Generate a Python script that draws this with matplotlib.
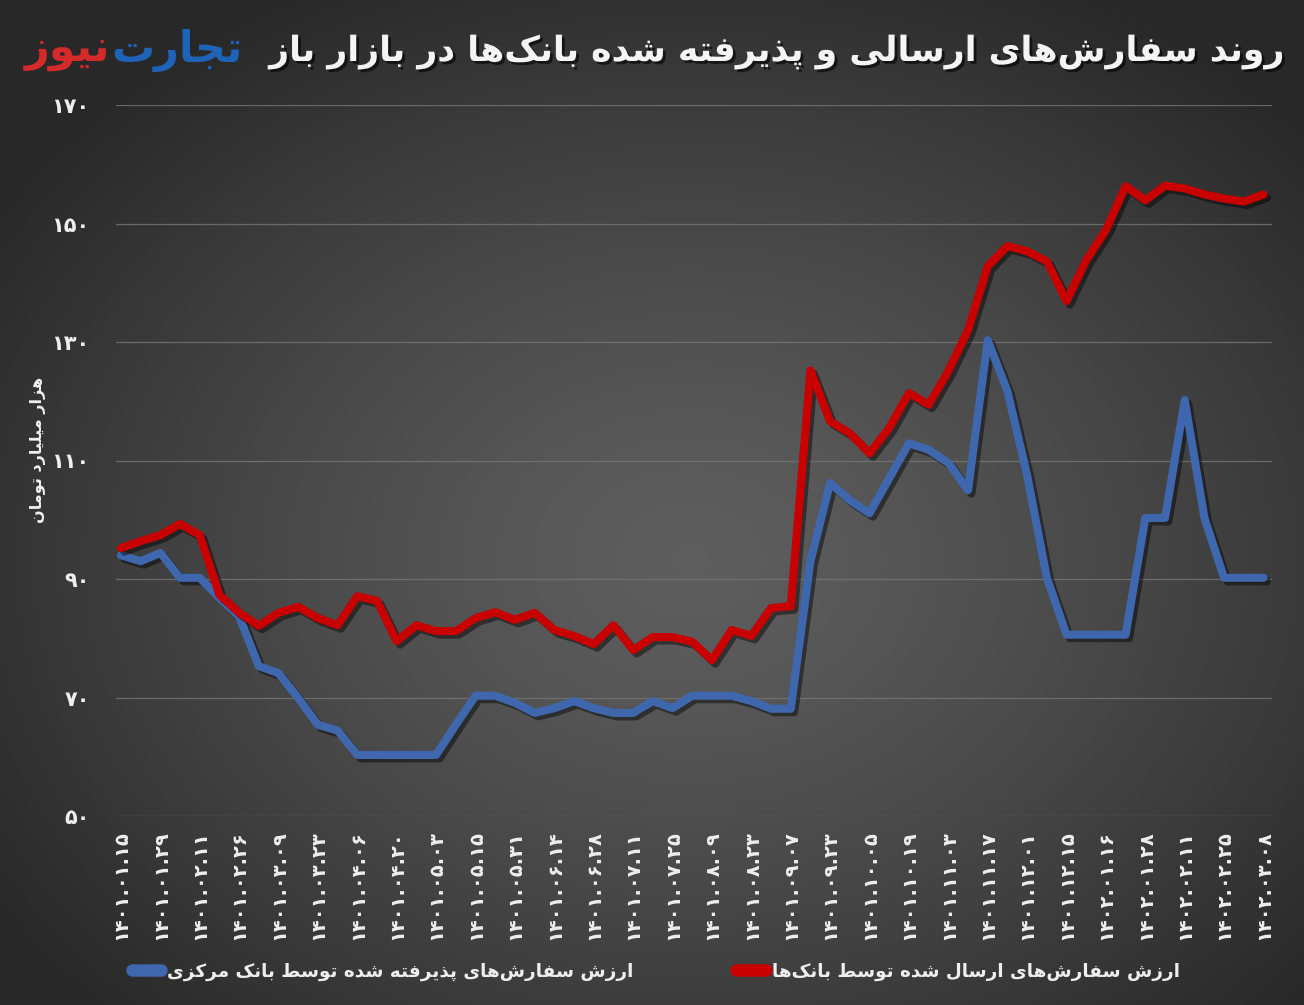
import numpy as np
import matplotlib
matplotlib.use("Agg")
import matplotlib.pyplot as plt
import matplotlib.patheffects as pe
from matplotlib.lines import Line2D

# ---------------- data ----------------
dates = ["۱۴۰۱.۰۱.۱۵", "۱۴۰۱.۰۱.۲۹", "۱۴۰۱.۰۲.۱۱", "۱۴۰۱.۰۲.۲۶", "۱۴۰۱.۰۳.۰۹",
         "۱۴۰۱.۰۳.۲۳", "۱۴۰۱.۰۴.۰۶", "۱۴۰۱.۰۴.۲۰", "۱۴۰۱.۰۵.۰۳", "۱۴۰۱.۰۵.۱۵",
         "۱۴۰۱.۰۵.۳۱", "۱۴۰۱.۰۶.۱۴", "۱۴۰۱.۰۶.۲۸", "۱۴۰۱.۰۷.۱۱", "۱۴۰۱.۰۷.۲۵",
         "۱۴۰۱.۰۸.۰۹", "۱۴۰۱.۰۸.۲۳", "۱۴۰۱.۰۹.۰۷", "۱۴۰۱.۰۹.۲۳", "۱۴۰۱.۱۰.۰۵",
         "۱۴۰۱.۱۰.۱۹", "۱۴۰۱.۱۱.۰۳", "۱۴۰۱.۱۱.۱۷", "۱۴۰۱.۱۲.۰۱", "۱۴۰۱.۱۲.۱۵",
         "۱۴۰۲.۰۱.۱۶", "۱۴۰۲.۰۱.۲۸", "۱۴۰۲.۰۲.۱۱", "۱۴۰۲.۰۲.۲۵", "۱۴۰۲.۰۳.۰۸"]

sent_by_banks = [95.2, 96.4, 97.4, 99.3, 97.4, 87.3, 84.3, 82.1, 84.3, 85.3,
                 83.4, 82.2, 87.1, 86.3, 79.5, 82.2, 81.2, 81.2, 83.4, 84.4,
                 83.1, 84.3, 81.4, 80.4, 79.0, 82.2, 78.0, 80.2, 80.2, 79.4,
                 76.3, 81.4, 80.4, 85.1, 85.4, 125.2, 116.6, 114.6, 111.2, 115.5,
                 121.4, 119.4, 125.1, 132.0, 142.8, 146.2, 145.3, 143.6, 136.9, 143.8,
                 148.9, 156.3, 153.9, 156.4, 155.9, 154.9, 154.2, 153.7, 154.9]

accepted_by_cb = [94.0, 93.0, 94.4, 90.2, 90.2, 86.8, 83.7, 75.3, 74.1, 69.9,
                  65.4, 64.4, 60.3, 60.3, 60.3, 60.3, 60.3, 65.4, 70.3, 70.3,
                  69.1, 67.4, 68.2, 69.4, 68.2, 67.4, 67.4, 69.4, 68.2, 70.3,
                  70.3, 70.3, 69.4, 68.1, 68.1, 93.0, 106.2, 103.3, 101.1, 107.0,
                  112.9, 111.8, 109.6, 105.0, 130.3, 121.7, 107.5, 90.2, 80.6, 80.6,
                  80.6, 80.6, 100.3, 100.3, 120.2, 100.3, 90.2, 90.2, 90.2]

y_ticks = [50, 70, 90, 110, 130, 150, 170]
y_tick_labels = ["۵۰", "۷۰", "۹۰", "۱۱۰", "۱۳۰", "۱۵۰", "۱۷۰"]

title_text = "روند سفارش‌های ارسالی و پذیرفته شده بانک‌ها در بازار باز"
ylabel_text = "هزار میلیارد تومان"
legend_red = "ارزش سفارش‌های ارسال شده توسط بانک‌ها"
legend_blue = "ارزش سفارش‌های پذیرفته شده توسط بانک مرکزی"
logo_blue = "تجارت"
logo_red = "نیوز"

# ---------------- minimal Persian shaping ----------------
FORMS = {
    '\u0627': ('\uFE8D', '\uFE8E', None, None),
    '\u0628': ('\uFE8F', '\uFE90', '\uFE91', '\uFE92'),
    '\u067E': ('\uFB56', '\uFB57', '\uFB58', '\uFB59'),
    '\u062A': ('\uFE95', '\uFE96', '\uFE97', '\uFE98'),
    '\u062B': ('\uFE99', '\uFE9A', '\uFE9B', '\uFE9C'),
    '\u062C': ('\uFE9D', '\uFE9E', '\uFE9F', '\uFEA0'),
    '\u0686': ('\uFB7A', '\uFB7B', '\uFB7C', '\uFB7D'),
    '\u062D': ('\uFEA1', '\uFEA2', '\uFEA3', '\uFEA4'),
    '\u062E': ('\uFEA5', '\uFEA6', '\uFEA7', '\uFEA8'),
    '\u062F': ('\uFEA9', '\uFEAA', None, None),
    '\u0630': ('\uFEAB', '\uFEAC', None, None),
    '\u0631': ('\uFEAD', '\uFEAE', None, None),
    '\u0632': ('\uFEAF', '\uFEB0', None, None),
    '\u0698': ('\uFB8A', '\uFB8B', None, None),
    '\u0633': ('\uFEB1', '\uFEB2', '\uFEB3', '\uFEB4'),
    '\u0634': ('\uFEB5', '\uFEB6', '\uFEB7', '\uFEB8'),
    '\u0635': ('\uFEB9', '\uFEBA', '\uFEBB', '\uFEBC'),
    '\u0636': ('\uFEBD', '\uFEBE', '\uFEBF', '\uFEC0'),
    '\u0637': ('\uFEC1', '\uFEC2', '\uFEC3', '\uFEC4'),
    '\u0638': ('\uFEC5', '\uFEC6', '\uFEC7', '\uFEC8'),
    '\u0639': ('\uFEC9', '\uFECA', '\uFECB', '\uFECC'),
    '\u063A': ('\uFECD', '\uFECE', '\uFECF', '\uFED0'),
    '\u0641': ('\uFED1', '\uFED2', '\uFED3', '\uFED4'),
    '\u0642': ('\uFED5', '\uFED6', '\uFED7', '\uFED8'),
    '\u06A9': ('\uFB8E', '\uFB8F', '\uFB90', '\uFB91'),
    '\u06AF': ('\uFB92', '\uFB93', '\uFB94', '\uFB95'),
    '\u0644': ('\uFEDD', '\uFEDE', '\uFEDF', '\uFEE0'),
    '\u0645': ('\uFEE1', '\uFEE2', '\uFEE3', '\uFEE4'),
    '\u0646': ('\uFEE5', '\uFEE6', '\uFEE7', '\uFEE8'),
    '\u0648': ('\uFEED', '\uFEEE', None, None),
    '\u0647': ('\uFEE9', '\uFEEA', '\uFEEB', '\uFEEC'),
    '\u06CC': ('\uFBFC', '\uFBFD', '\uFBFE', '\uFBFF'),
}


def fa(text):
    chars = list(text)
    n = len(chars)
    out = []
    for i, c in enumerate(chars):
        if c == '\u200c':
            continue
        if c not in FORMS:
            out.append(c)
            continue
        prev = chars[i - 1] if i > 0 else None
        nxt = chars[i + 1] if i + 1 < n else None
        cp = prev in FORMS and FORMS[prev][2] is not None
        cn = nxt in FORMS and FORMS[c][2] is not None
        iso, fin, ini, med = FORMS[c]
        if cp and cn:
            out.append(med)
        elif cp:
            out.append(fin)
        elif cn:
            out.append(ini)
        else:
            out.append(iso)
    return ''.join(reversed(out))


FONT = ['DejaVu Sans']
plt.rcParams['font.family'] = FONT

# ---------------- figure ----------------
W, H = 1304, 1005
fig = plt.figure(figsize=(W / 100, H / 100), dpi=100)

# radial background gradient
bg = fig.add_axes([0, 0, 1, 1], zorder=-10)
yy, xx = np.mgrid[0:H, 0:W]
r = np.sqrt(((xx - 690) / 820.0) ** 2 + ((yy - 560) / 640.0) ** 2)
r = np.clip(r, 0, 1)
light, dark = 0.37, 0.16
val = light - (light - dark) * r ** 1.3
bg.imshow(np.dstack([val, val, val]), extent=[0, 1, 0, 1], aspect='auto',
          origin='upper')
bg.axis('off')

ax = fig.add_axes([116 / W, 1 - 816 / H, (1272 - 116) / W, (816 - 105) / H])
ax.set_facecolor('none')
x = np.arange(len(sent_by_banks))

shadow = [pe.SimpleLineShadow(offset=(2.5, -2.5), shadow_color='black', alpha=0.45),
          pe.Normal()]
ax.plot(x, accepted_by_cb, color='#3F67AE', lw=5.8, solid_joinstyle='round',
        solid_capstyle='round', path_effects=shadow, zorder=3)
ax.plot(x, sent_by_banks, color='#C80000', lw=5.8, solid_joinstyle='round',
        solid_capstyle='round', path_effects=shadow, zorder=4)

ax.set_ylim(50, 170)
ax.set_xlim(-0.25, len(x) - 1 + 0.43)
ax.set_yticks(y_ticks)
ax.set_yticklabels(y_tick_labels, fontsize=15, fontweight='bold', color='#eeeeee')
ax.set_xticks(x[::2])
ax.set_xticklabels(dates, rotation=90, fontsize=14, fontweight='bold', color='#eeeeee')
ax.tick_params(axis='both', length=0)
ax.tick_params(axis='y', pad=19)
ax.tick_params(axis='x', pad=10)
ax.grid(axis='y', color='#777777', lw=0.9, alpha=0.8)
ax.set_axisbelow(True)
for s in ax.spines.values():
    s.set_visible(False)

fig.text(38 / W, 1 - 450 / H, fa(ylabel_text), rotation=90, ha='center', va='center',
         fontsize=11.5, fontweight='bold', color='#f2f2f2')

# title
fig.text(1285 / W, 1 - 52 / H, fa(title_text), ha='right', va='center', fontsize=25,
         fontweight='bold', color='#f4f4f4',
         path_effects=[pe.withSimplePatchShadow(offset=(2, -2), shadow_rgbFace='black', alpha=0.6)])

# logo
t1 = fig.text(242 / W, 1 - 50 / H, fa(logo_blue), ha='right', va='center', fontsize=31,
              fontweight='bold', color='#1E63B8')
fig.canvas.draw()
bb = t1.get_window_extent()
fig.text(bb.x0 / W, 1 - 50 / H, fa(logo_red), ha='right', va='center', fontsize=31,
         fontweight='bold', color='#D42A2A')

# legend
handles = [Line2D([], [], color='#3F67AE', lw=9, solid_capstyle='round'),
           Line2D([], [], color='#C80000', lw=9, solid_capstyle='round')]
leg = fig.legend(handles, [fa(legend_blue), fa(legend_red)], loc='center',
                 bbox_to_anchor=(0.503, 1 - 972 / H), ncol=2, frameon=False,
                 fontsize=13.2, handlelength=1.6, handletextpad=0.35,
                 columnspacing=5.6)
for t in leg.get_texts():
    t.set_color('#eeeeee')
    t.set_fontweight('bold')

fig.savefig('out.png', dpi=100)
